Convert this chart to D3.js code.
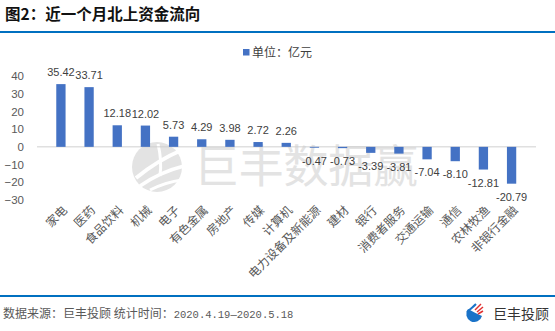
<!DOCTYPE html>
<html><head><meta charset="utf-8">
<script src="https://cdn.jsdelivr.net/npm/d3@7"></script>
<style>body{margin:0;background:#fff}svg{display:block}</style>
</head><body><svg id="c" width="555" height="331"></svg>
<script>
const categories = ["家电","医药","食品饮料","机械","电子","有色金属","房地产","传媒","计算机","电力设备及新能源","建材","银行","消费者服务","交通运输","通信","农林牧渔","非银行金融"];
const values = [35.42,33.71,12.18,12.02,5.73,4.29,3.98,2.72,2.26,-0.47,-0.73,-3.39,-3.81,-7.04,-8.10,-12.81,-20.79];
const yTicks = [40,30,20,10,0,-10,-20,-30];
const seriesName = "单位：亿元";
const title = "图2：近一个月北上资金流向";
const sourceText = "数据来源：巨丰投顾 统计时间：";
const dateText = "2020.4.19—2020.5.18";

const svg = d3.select("#c");
const cn = "'Noto Sans CJK SC', sans-serif";
const num = "'Liberation Sans', Arial, sans-serif";

// title
svg.append("text").attr("x",5).attr("y",20).attr("font-family",cn).attr("font-weight","bold")
  .attr("font-size",15.5).attr("fill","#111").text(title);
svg.append("rect").attr("x",0).attr("y",31).attr("width",555).attr("height",2).attr("fill","#0070c0");

// watermark
const wm = svg.append("g");
wm.append("circle").attr("cx",157).attr("cy",167).attr("r",25).attr("fill","#e3e3e3");
const sw = [[140,180,170,150],[138,172,176,156],[142,188,178,162]];
wm.append("path").attr("d","M136,178 Q158,160 182,150").attr("stroke","#fff").attr("stroke-width",4).attr("fill","none");
wm.append("path").attr("d","M140,186 Q160,172 184,166").attr("stroke","#fff").attr("stroke-width",3.5).attr("fill","none");
wm.append("path").attr("d","M150,190 Q166,182 182,180").attr("stroke","#fff").attr("stroke-width",3).attr("fill","none");
wm.append("path").attr("d","M158,144 Q162,160 160,176").attr("stroke","#fff").attr("stroke-width",3).attr("fill","none");
wm.append("text").attr("x",194).attr("y",183).attr("font-family",cn).attr("font-size",45)
  .attr("fill","#e3e3e3").attr("textLength",224).text("巨丰数据赢");

// scales
const x = d3.scaleBand().domain(categories).range([37.4,535.1]).padding(0.67);
const y = d3.scaleLinear().domain([-30,40]).range([200,76]);

// y axis
const yAxis = d3.axisLeft(y).tickValues(yTicks).tickSize(0).tickPadding(0).tickFormat(d3.format("d"));
const ya = svg.append("g").attr("transform","translate(24,0)").call(yAxis);
ya.select(".domain").remove();
ya.selectAll("text").attr("font-family",num).attr("font-size",11.5).attr("fill","#595959");

// zero line
svg.append("line").attr("x1",37).attr("x2",536).attr("y1",y(0)).attr("y2",y(0))
  .attr("stroke","#d0d0d0").attr("stroke-width",1);

// bars
svg.append("g").selectAll("rect").data(values).join("rect")
  .attr("x",(d,i)=>x(categories[i])).attr("width",x.bandwidth())
  .attr("y",d=>y(Math.max(0,d))).attr("height",d=>Math.abs(y(d)-y(0)))
  .attr("fill","#4472c4");

// data labels
svg.append("g").selectAll("text").data(values).join("text")
  .attr("x",(d,i)=>x(categories[i])+x.bandwidth()/2)
  .attr("y",d=> d>=0 ? y(d)-8 : y(d)+17)
  .attr("text-anchor","middle").attr("font-family",num).attr("font-size",11)
  .attr("fill","#404040").text(d=>d.toFixed(2));

// x labels
const xAxis = d3.axisBottom(x).tickSize(0).tickPadding(0);
const xa = svg.append("g").attr("transform","translate(0,0)").call(xAxis);
xa.select(".domain").remove();
xa.selectAll(".tick").attr("transform",d=>`translate(${x(d)+x.bandwidth()/2+7},211)`);
xa.selectAll("text").attr("transform","rotate(-45)").attr("text-anchor","end").attr("y",0).attr("dy",0)
  .attr("font-family",cn).attr("font-size",12).attr("fill","#595959");

// legend
svg.append("rect").attr("x",243).attr("y",49).attr("width",6.5).attr("height",6.5).attr("fill","#4472c4");
svg.append("text").attr("x",252).attr("y",56.5).attr("font-family",cn).attr("font-size",12)
  .attr("fill","#404040").text(seriesName);

// footer
svg.append("rect").attr("x",0).attr("y",295).attr("width",555).attr("height",2).attr("fill","#0070c0");
const ft = svg.append("text").attr("x",3).attr("y",318).attr("fill","#595959");
ft.append("tspan").attr("font-family",cn).attr("font-size",12).text(sourceText);
ft.append("tspan").attr("font-family","'Liberation Mono', monospace").attr("font-size",10.5).text(dateText);

// footer logo
const lg = svg.append("g").attr("transform","translate(475,313)");
lg.append("path").attr("d","M-7,-4 A8,8 0 1 0 7,3 Q0,0 -7,-4 Z").attr("fill","#1a73c8");
lg.append("path").attr("d","M-8,-1 Q-2,-6 1,-9").attr("stroke","#1a73c8").attr("stroke-width",2).attr("fill","none");
lg.append("path").attr("d","M0,-3 L6,-9").attr("stroke","#e03030").attr("stroke-width",1.5);
lg.append("path").attr("d","M2,-1 L8,-6").attr("stroke","#e03030").attr("stroke-width",1.5);
lg.append("path").attr("d","M3,1 L8,-2").attr("stroke","#e03030").attr("stroke-width",1.5);
svg.append("text").attr("x",493).attr("y",319).attr("font-family",cn).attr("font-size",14)
  .attr("fill","#333").text("巨丰投顾");
</script></body></html>
